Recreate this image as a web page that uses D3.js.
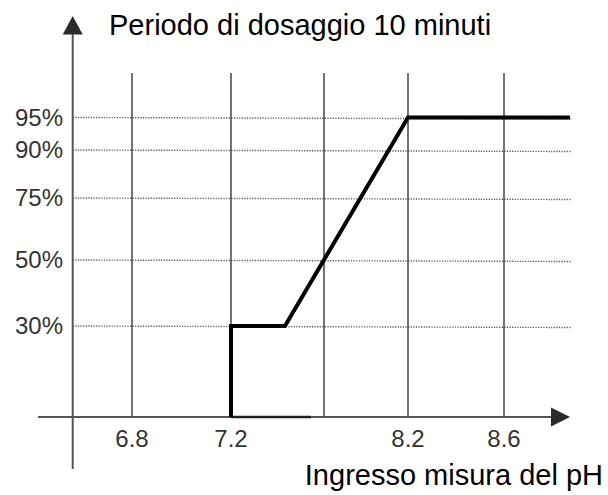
<!DOCTYPE html>
<html>
<head>
<meta charset="utf-8">
<script src="https://cdn.jsdelivr.net/npm/d3@7"></script>
<style>
  html, body { margin: 0; padding: 0; background: #fff; }
  svg { display: block; }
  text { font-family: "Liberation Sans", Arial, sans-serif; }
</style>
</head>
<body>
<svg id="chart" width="608" height="495"></svg>
<script>
// ---- data ----
const xTickValues = [6.8, 7.2, 7.7, 8.2, 8.6];
const xTickLabels = ["6.8", "7.2", "", "8.2", "8.6"];
const yTickValues = [30, 50, 75, 90, 95];
const yTickLabels = ["30%", "50%", "75%", "90%", "95%"];
const curveX = [7.2, 7.2, 7.49, 8.2, 8.9];
const curveY = [0, 30, 30, 95, 95];
const baseSegX = [7.2, 7.63];
const titleY = "Periodo di dosaggio 10 minuti";
const titleX = "Ingresso misura del pH";

// ---- layout ----
const svg = d3.select("#chart");
const originX = 72.7, originY = 417;

// piecewise scales (schematic, non-uniform spacing as in the reference)
const x = d3.scaleLinear()
  .domain([6.5, 6.8, 7.2, 7.7, 8.2, 8.6, 8.9])
  .range([originX, 132, 231, 324, 408, 504, 570]);
const y = d3.scaleLinear()
  .domain([0, 30, 50, 75, 90, 95, 100])
  .range([originY, 326, 260, 198, 150, 117.5, 73]);

// horizontal dotted gridlines
svg.append("g").selectAll("line").data(yTickValues).join("line")
  .attr("x1", originX).attr("x2", x(8.9) + 2)
  .attr("y1", d => y(d)).attr("y2", d => y(d) + 1.5)
  .attr("stroke", "#555").attr("stroke-width", 1.4)
  .attr("stroke-dasharray", "1.2,1.4");

// vertical gridlines
svg.append("g").selectAll("line").data(xTickValues).join("line")
  .attr("x1", d => x(d)).attr("x2", d => x(d))
  .attr("y1", y(100)).attr("y2", originY)
  .attr("stroke", "#444").attr("stroke-width", 1.5);

// axes
svg.append("line")
  .attr("x1", originX).attr("x2", originX)
  .attr("y1", 30).attr("y2", 469)
  .attr("stroke", "#555").attr("stroke-width", 2);
svg.append("line")
  .attr("x1", 38).attr("x2", 556)
  .attr("y1", originY).attr("y2", originY)
  .attr("stroke", "#555").attr("stroke-width", 2);

// arrow heads
svg.append("path")
  .attr("d", `M${originX},16 L${originX - 10},34.5 L${originX + 10},34.5 Z`)
  .attr("fill", "#2a2a2a");
svg.append("path")
  .attr("d", `M570,${originY} L551,${originY - 9.5} L551,${originY + 9.5} Z`)
  .attr("fill", "#2a2a2a");

// darker segment on the x axis
svg.append("line")
  .attr("x1", x(baseSegX[0])).attr("x2", x(baseSegX[1]))
  .attr("y1", originY).attr("y2", originY)
  .attr("stroke", "#222").attr("stroke-width", 2.6);

// curve
const pts = curveX.map((v, i) => [v, curveY[i]]);
svg.append("path")
  .datum(pts)
  .attr("d", d3.line().x(d => x(d[0])).y(d => y(d[1])))
  .attr("fill", "none").attr("stroke", "#000")
  .attr("stroke-width", 4).attr("stroke-linejoin", "miter");

// y tick labels
svg.append("g").selectAll("text").data(yTickValues).join("text")
  .attr("x", 63).attr("y", d => y(d) + 8)
  .attr("text-anchor", "end")
  .attr("font-size", 24).attr("fill", "#333")
  .text((d, i) => yTickLabels[i]);

// x tick labels
svg.append("g").selectAll("text").data(xTickValues).join("text")
  .attr("x", d => x(d)).attr("y", 447)
  .attr("text-anchor", "middle")
  .attr("font-size", 24).attr("fill", "#333")
  .text((d, i) => xTickLabels[i]);

// titles
svg.append("text")
  .attr("x", 109).attr("y", 35)
  .attr("font-size", 29).attr("fill", "#000")
  .text(titleY);
svg.append("text")
  .attr("x", 603).attr("y", 485)
  .attr("text-anchor", "end")
  .attr("font-size", 29).attr("fill", "#000")
  .text(titleX);
</script>
</body>
</html>
